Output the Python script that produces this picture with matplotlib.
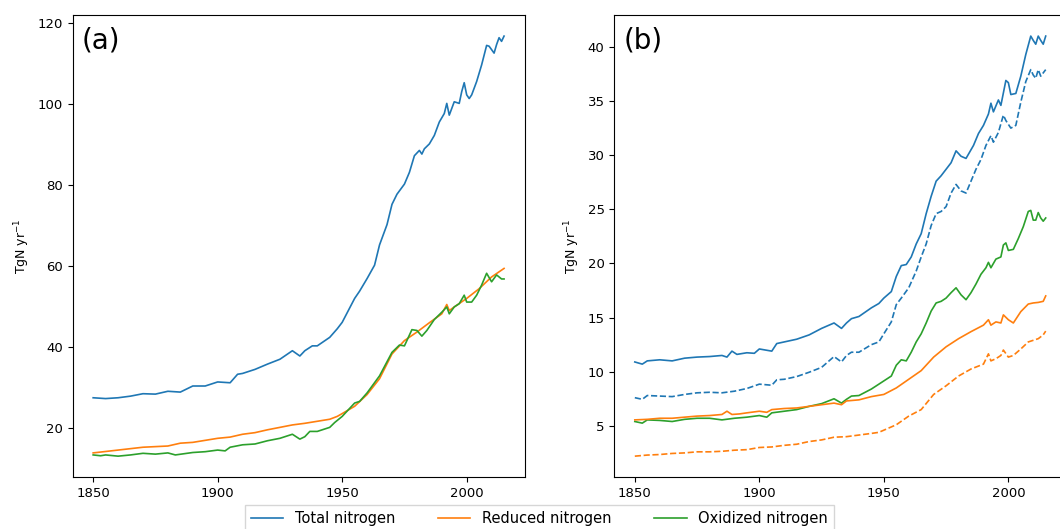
import matplotlib
matplotlib.use("Agg")
import matplotlib.pyplot as plt

# ---- panel (a) ----
tot_a_yr = [1850, 1855, 1860, 1865, 1870, 1875, 1880, 1885, 1890, 1895, 1900, 1905, 1908, 1910,
            1915, 1920, 1925, 1930, 1933, 1935, 1938, 1940, 1945, 1948, 1950, 1955, 1957, 1960,
            1963, 1965, 1968, 1970, 1972, 1975, 1977, 1979, 1981, 1982, 1983, 1985, 1987, 1989,
            1991, 1992, 1993, 1995, 1997, 1998, 1999, 2000, 2001, 2002, 2004, 2006, 2008, 2009,
            2011, 2012, 2013, 2014, 2015]
tot_a = [27.5, 27.3, 27.5, 27.9, 28.5, 28.4, 29.1, 28.9, 30.4, 30.4, 31.4, 31.2, 33.3, 33.5,
         34.5, 35.8, 37.0, 39.1, 37.8, 39.1, 40.3, 40.3, 42.4, 44.5, 46.1, 52.0, 53.8, 56.9,
         60.2, 65.2, 70.2, 75.2, 77.7, 80.2, 83.1, 87.2, 88.5, 87.6, 88.9, 90.1, 92.2, 95.5,
         97.6, 100.1, 97.2, 100.5, 100.1, 103.0, 105.2, 102.2, 101.3, 102.2, 105.5, 109.6, 114.4, 114.2,
         112.5, 114.6, 116.3, 115.4, 116.7]

red_a_yr = [1850, 1860, 1870, 1880, 1885, 1890, 1900, 1905, 1910, 1915, 1920, 1925, 1930, 1935,
            1940, 1945, 1948, 1950, 1955, 1960, 1965, 1970, 1975, 1980, 1985, 1990, 1992, 1993,
            1995, 2000, 2005, 2010, 2015]
red_a = [13.9, 14.6, 15.3, 15.6, 16.3, 16.5, 17.5, 17.8, 18.5, 18.9, 19.6, 20.2, 20.8, 21.2,
         21.7, 22.2, 22.9, 23.6, 25.4, 28.3, 32.2, 38.3, 41.6, 43.7, 46.0, 48.2, 50.5, 49.0,
         49.9, 52.0, 54.4, 57.3, 59.4]

oxi_a_yr = [1850, 1853, 1855, 1860, 1865, 1870, 1875, 1880, 1883, 1890, 1895, 1900, 1903, 1905,
            1910, 1915, 1920, 1925, 1930, 1933, 1935, 1937, 1940, 1945, 1947, 1950, 1955, 1957,
            1960, 1965, 1970, 1973, 1975, 1978, 1980, 1982, 1984, 1987, 1990, 1992, 1993, 1995,
            1997, 1999, 2000, 2002, 2004, 2006, 2008, 2010, 2012, 2014, 2015]
oxi_a = [13.4, 13.2, 13.4, 13.1, 13.4, 13.8, 13.6, 13.9, 13.4, 14.0, 14.2, 14.6, 14.4, 15.3,
         15.9, 16.1, 16.9, 17.5, 18.5, 17.3, 17.9, 19.2, 19.2, 20.2, 21.4, 22.9, 26.2, 26.6,
         28.7, 32.9, 38.7, 40.5, 40.3, 44.3, 44.1, 42.7, 44.1, 46.8, 48.6, 49.9, 48.2, 49.9,
         50.7, 52.8, 51.1, 51.1, 52.8, 55.3, 58.2, 56.1, 57.8, 56.8, 56.8]

# ---- panel (b) ----
tot_b_yr = [1850, 1853, 1855, 1860, 1865, 1870, 1875, 1880, 1885, 1887, 1889, 1891, 1895, 1898,
            1900, 1905, 1907, 1910, 1915, 1920, 1925, 1930, 1933, 1935, 1937, 1940, 1945, 1948,
            1950, 1953, 1955, 1957, 1959, 1961, 1963, 1965, 1967, 1969, 1971, 1973, 1975, 1977,
            1979, 1981, 1983, 1984, 1986, 1988, 1990, 1992, 1993, 1994, 1996, 1997, 1999, 2000,
            2001, 2003, 2005, 2007, 2009, 2010, 2011, 2012, 2013, 2014, 2015]
tot_b = [10.9, 10.7, 11.0, 11.1, 11.0, 11.25, 11.35, 11.4, 11.5, 11.35, 11.9, 11.6, 11.75, 11.7,
         12.1, 11.9, 12.6, 12.75, 13.0, 13.4, 14.0, 14.5, 14.0, 14.5, 14.9, 15.1, 15.9, 16.3,
         16.8, 17.4, 18.8, 19.8, 19.9, 20.6, 21.8, 22.75, 24.6, 26.2, 27.6, 28.1, 28.7, 29.3,
         30.4, 29.9, 29.7, 30.1, 30.9, 32.0, 32.75, 33.8, 34.8, 34.0, 35.1, 34.6, 36.9, 36.7,
         35.6, 35.7, 37.3, 39.3, 41.0, 40.6, 40.25, 41.0, 40.6, 40.25, 41.0]

tot_b2_yr = [1850, 1853, 1855, 1860, 1865, 1870, 1875, 1880, 1885, 1890, 1895, 1900, 1905, 1907,
             1910, 1915, 1920, 1925, 1930, 1933, 1935, 1937, 1940, 1945, 1948, 1950, 1953, 1955,
             1957, 1960, 1963, 1965, 1967, 1969, 1971, 1973, 1975, 1977, 1979, 1981, 1983, 1985,
             1987, 1989, 1991, 1993, 1994, 1996, 1998, 1999, 2001, 2003, 2005, 2007, 2009, 2010,
             2011, 2012, 2013, 2014, 2015]
tot_b2 = [7.6, 7.45, 7.8, 7.75, 7.7, 7.9, 8.05, 8.1, 8.05, 8.2, 8.45, 8.85, 8.75, 9.25,
          9.3, 9.55, 9.95, 10.4, 11.4, 10.9, 11.5, 11.8, 11.8, 12.5, 12.75, 13.5, 14.6, 16.2,
          16.8, 17.75, 19.3, 20.6, 21.8, 23.5, 24.6, 24.8, 25.25, 26.5, 27.3, 26.7, 26.5, 27.6,
          28.7, 29.6, 30.9, 31.8, 31.2, 32.1, 33.7, 33.2, 32.5, 32.75, 34.9, 36.8, 37.9, 37.4,
          37.1, 37.9, 37.3, 37.6, 37.9]

red_b_yr = [1850, 1855, 1860, 1865, 1870, 1875, 1880, 1885, 1887, 1889, 1892, 1895, 1900, 1903,
            1905, 1910, 1915, 1920, 1925, 1930, 1933, 1935, 1940, 1945, 1950, 1955, 1960, 1965,
            1970, 1975, 1980, 1985, 1990, 1992, 1993, 1995, 1997, 1998, 2000, 2002, 2005, 2008,
            2010, 2012, 2014, 2015]
red_b = [5.55, 5.6, 5.7, 5.7, 5.8, 5.9, 5.95, 6.05, 6.35, 6.05, 6.1, 6.2, 6.35, 6.25,
         6.5, 6.6, 6.65, 6.8, 6.95, 7.1, 6.95, 7.3, 7.4, 7.7, 7.9, 8.5, 9.3, 10.1,
         11.35, 12.3, 13.05, 13.7, 14.3, 14.8, 14.3, 14.6, 14.5, 15.25, 14.8, 14.5, 15.55, 16.25,
         16.35, 16.4, 16.5, 17.0]

red_b2_yr = [1850, 1855, 1860, 1865, 1870, 1875, 1880, 1885, 1890, 1895, 1900, 1905, 1910, 1915,
             1920, 1925, 1930, 1935, 1940, 1945, 1948, 1950, 1955, 1960, 1965, 1970, 1975, 1980,
             1985, 1990, 1992, 1993, 1995, 1997, 1998, 2000, 2002, 2005, 2008, 2010, 2012, 2014,
             2015]
red_b2 = [2.2, 2.3, 2.35, 2.45, 2.5, 2.6, 2.6, 2.65, 2.75, 2.8, 3.0, 3.05, 3.2, 3.3,
          3.55, 3.7, 3.95, 4.0, 4.15, 4.3, 4.4, 4.6, 5.1, 5.9, 6.5, 7.9, 8.7, 9.6,
          10.25, 10.7, 11.65, 11.0, 11.2, 11.5, 12.0, 11.35, 11.5, 12.1, 12.75, 12.9, 13.05, 13.4,
          13.75]

oxi_b_yr = [1850, 1853, 1855, 1860, 1865, 1870, 1875, 1880, 1885, 1890, 1895, 1900, 1903, 1905,
            1910, 1915, 1920, 1925, 1930, 1933, 1935, 1937, 1940, 1945, 1948, 1950, 1953, 1955,
            1957, 1959, 1961, 1963, 1965, 1967, 1969, 1971, 1973, 1975, 1977, 1979, 1981, 1983,
            1985, 1987, 1989, 1991, 1992, 1993, 1995, 1997, 1998, 1999, 2000, 2002, 2004, 2006,
            2008, 2009, 2010, 2011, 2012, 2013, 2014, 2015]
oxi_b = [5.4, 5.25, 5.55, 5.5, 5.4, 5.6, 5.7, 5.7, 5.55, 5.7, 5.8, 5.95, 5.8, 6.2,
         6.35, 6.5, 6.8, 7.05, 7.5, 7.1, 7.45, 7.75, 7.8, 8.4, 8.85, 9.15, 9.6, 10.6,
         11.1, 11.0, 11.8, 12.75, 13.5, 14.5, 15.6, 16.35, 16.5, 16.8, 17.3, 17.75, 17.1, 16.65,
         17.3, 18.1, 19.0, 19.6, 20.1, 19.6, 20.4, 20.6, 21.7, 21.9, 21.2, 21.3, 22.3, 23.4,
         24.8, 24.9, 24.0, 24.0, 24.7, 24.2, 23.9, 24.2]

c_tot = "#1f77b4"
c_red = "#ff7f0e"
c_oxi = "#2ca02c"
lw = 1.2

fig = plt.figure(figsize=(10.6, 5.29), dpi=100)
ax1 = fig.add_axes([0.0685, 0.098, 0.4264, 0.8735])
ax2 = fig.add_axes([0.5795, 0.098, 0.4264, 0.8735])

ax1.plot(tot_a_yr, tot_a, color=c_tot, lw=lw, label="Total nitrogen")
ax1.plot(red_a_yr, red_a, color=c_red, lw=lw, label="Reduced nitrogen")
ax1.plot(oxi_a_yr, oxi_a, color=c_oxi, lw=lw, label="Oxidized nitrogen")

ax2.plot(tot_b_yr, tot_b, color=c_tot, lw=lw)
ax2.plot(tot_b2_yr, tot_b2, color=c_tot, lw=lw, ls="--")
ax2.plot(oxi_b_yr, oxi_b, color=c_oxi, lw=lw)
ax2.plot(red_b_yr, red_b, color=c_red, lw=lw)
ax2.plot(red_b2_yr, red_b2, color=c_red, lw=lw, ls="--")

ax1.set_yticks([20, 40, 60, 80, 100, 120])
ax2.set_yticks([5, 10, 15, 20, 25, 30, 35, 40])
for ax, lab in [(ax1, "(a)"), (ax2, "(b)")]:
    ax.set_xticks([1850, 1900, 1950, 2000])
    ax.tick_params(labelsize=9.5)
    ax.set_ylabel("TgN yr$^{-1}$", fontsize=9)
    ax.text(0.02, 0.975, lab, transform=ax.transAxes, fontsize=20, va="top", ha="left",
            zorder=5, bbox=dict(facecolor="white", edgecolor="none", alpha=0.8, pad=4))

fig.legend(loc="upper center", bbox_to_anchor=(0.509, 1 - 505 / 529), ncol=3,
           fontsize=10.5, frameon=True, fancybox=False, borderaxespad=0,
           columnspacing=2.95, handlelength=2.2)

fig.savefig("out.png")
plt.close(fig)
